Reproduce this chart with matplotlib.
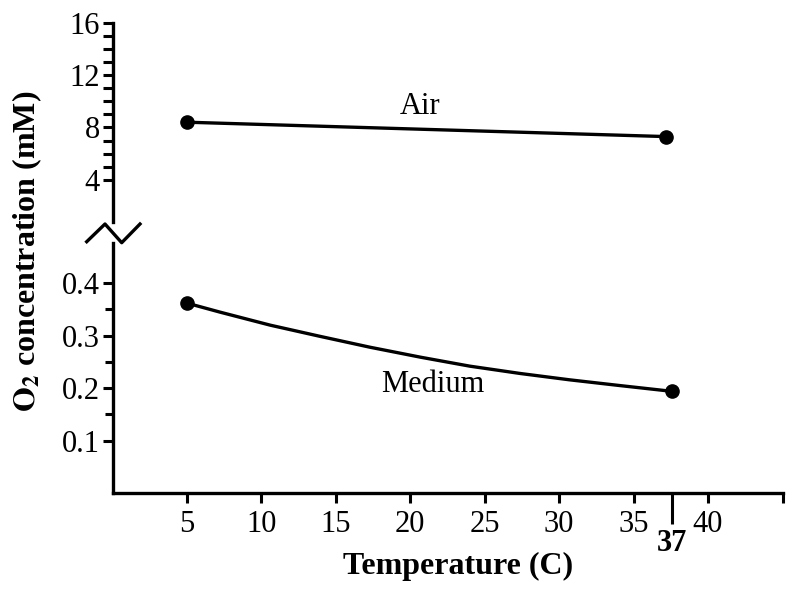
import matplotlib
matplotlib.use("Agg")
import matplotlib.pyplot as plt
from matplotlib.lines import Line2D

plt.rcParams['font.family'] = ['Liberation Serif', 'DejaVu Serif']
plt.rcParams['mathtext.fontset'] = 'stix'

# ---- data ----
air_x = [5, 37.2]
air_y = [8.4, 7.3]

medium_x = [5, 7.2, 10.6, 13.9, 17.3, 20.7, 24.0, 27.4, 30.7, 34.1, 37.6]
medium_y = [0.362, 0.345, 0.320, 0.299, 0.278, 0.259, 0.242, 0.228, 0.216, 0.205, 0.194]

x_ticks = [5, 10, 15, 20, 25, 30, 35, 40, 45]
x_ticklabels = ['5', '10', '15', '20', '25', '30', '35', '40', '']
special_tick = [37.6]
special_label = ['37']

top_major = [4, 8, 12, 16]
top_minor = [5, 6, 7, 9, 10, 11, 13, 14, 15]
bot_major = [0.1, 0.2, 0.3, 0.4]
bot_minor = [0.15, 0.25, 0.35]

W, H = 800, 599
fig = plt.figure(figsize=(W / 100, H / 100), dpi=100)

def fx(px):
    return px / W

def fy(py):
    return 1 - py / H

left, right = 112.5, 782.5
ax_top = fig.add_axes([fx(left), fy(221.7), fx(right - left), (221.7 - 22.7) / H])
ax_bot = fig.add_axes([fx(left), fy(493.3), fx(right - left), (493.3 - 242.7) / H])

lw = 2.4
for ax in (ax_top, ax_bot):
    ax.set_xlim(0, 45)
    for s in ('top', 'right'):
        ax.spines[s].set_visible(False)
    ax.spines['left'].set_linewidth(lw)
    ax.spines['bottom'].set_linewidth(lw)

# top panel
ax_top.spines['bottom'].set_visible(False)
ax_top.set_ylim(0.8, 16)
ax_top.set_xticks([])
ax_top.set_yticks(top_major)
ax_top.set_yticks(top_minor, minor=True)
ax_top.set_yticklabels([str(v) for v in top_major])
ax_top.tick_params(axis='y', which='both', length=7.5, width=2.2, direction='out',
                   labelsize=22, pad=1.5)
ax_top.plot(air_x, air_y, color='black', lw=2.4, marker='o', markersize=9.5,
            solid_capstyle='round')
ax_top.text(20.65, 9.6, 'Air', fontsize=22, ha='center', va='center')

# bottom panel
ax_bot.set_ylim(0, 0.477)
ax_bot.set_yticks(bot_major)
ax_bot.set_yticks(bot_minor, minor=True)
ax_bot.set_yticklabels(['0.1', '0.2', '0.3', '0.4'])
ax_bot.tick_params(axis='y', which='major', length=7.5, width=2.2, labelsize=22, pad=1.5)
ax_bot.tick_params(axis='y', which='minor', length=6, width=2.2)
ax_bot.set_xticks(x_ticks)
ax_bot.set_xticklabels(x_ticklabels)
ax_bot.set_xticks(special_tick, minor=True)
ax_bot.set_xticklabels(special_label, minor=True, fontweight='bold')
ax_bot.tick_params(axis='x', which='major', length=7.5, width=2.2, labelsize=22, pad=4.5)
ax_bot.tick_params(axis='x', which='minor', length=22, width=2.2, labelsize=22, pad=3.5)
ax_bot.plot(medium_x, medium_y, color='black', lw=2.4, marker='o', markersize=9.5,
            markevery=[0, len(medium_x) - 1])
ax_bot.text(21.5, 0.207, 'Medium', fontsize=22, ha='center', va='center')

# axis labels
fig.text(fx(458), fy(566), 'Temperature (C)', fontsize=23, fontweight='bold',
         ha='center', va='center')
fig.text(fx(27), fy(251), r'$\mathbf{O_2}$' + ' concentration (mM)', fontsize=23,
         fontweight='bold', rotation=90, ha='center', va='center')

# break mark
zz_x = [86.7, 105, 121.7, 140]
zz_y = [241.7, 224, 242.7, 224]
fig.add_artist(Line2D([fx(v) for v in zz_x], [fy(v) for v in zz_y],
                      transform=fig.transFigure, color='black', lw=2.4))

fig.savefig('out.png', dpi=100)
